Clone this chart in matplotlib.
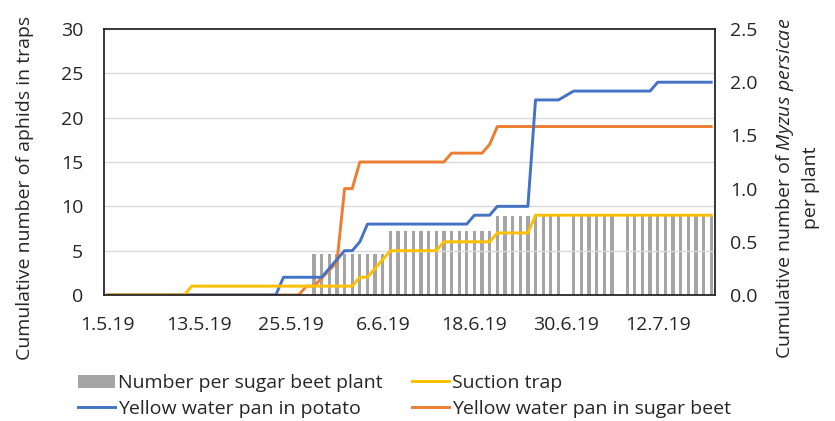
import numpy as np
import pandas as pd
import matplotlib
matplotlib.use("Agg")
import matplotlib.pyplot as plt
from matplotlib.ticker import FixedLocator

plt.rcParams['font.family'] = ['Open Sans', 'DejaVu Sans']
plt.rcParams['mathtext.fontset'] = 'custom'
plt.rcParams['mathtext.it'] = 'Open Sans:italic'
plt.rcParams['mathtext.rm'] = 'Open Sans'

# daily sampling dates, 1.5.2019 - 19.7.2019
dates = pd.date_range('2019-05-01', '2019-07-19', freq='D')
day_labels = [f"{d.day}.{d.month}.19" for d in dates]

# cumulative catches (left axis), one value per day
potato = ([0] * 23 + [2] * 6 + [3, 4, 5, 5, 6] + [8] * 14 + [9] * 3 + [10] * 5
          + [22] * 4 + [22.5] + [23] * 11 + [24] * 8)
sugar_beet = ([0] * 26 + [1, 1, 1.9, 2.8, 3.7, 12, 12] + [15] * 12 + [16] * 5
              + [17] + [19] * 29)
suction = ([0] * 11 + [1] * 22 + [2, 2, 3, 4] + [5] * 7 + [6] * 7 + [7] * 5
           + [9] * 24)

# aphids per sugar beet plant (right axis), NaN = no count that day
per_plant = ([np.nan] * 27 + [0.39] * 10 + [0.6] * 14 + [0.74] * 9 + [np.nan]
             + [0.74] * 6 + [np.nan] + [0.74] * 12)

left_ticks = [0, 5, 10, 15, 20, 25, 30]
right_ticks = [0.0, 0.5, 1.0, 1.5, 2.0, 2.5]

blue = '#4472C4'
orange = '#ED7D31'
yellow = '#FFC000'
grey = '#A5A5A5'
frame = '#262626'
text_col = '#262626'

x = np.arange(len(dates))

fig = plt.figure(figsize=(8.35, 4.21), dpi=100)
ax = fig.add_axes([104 / 835, 1 - 295 / 421, 611 / 835, 266 / 421])
ax2 = ax.twinx()
ax.set_zorder(ax2.get_zorder() + 1)   # lines on top of the bars
ax.patch.set_visible(False)

bars = ax2.bar(x, per_plant, width=0.43, color=grey, label='Number per sugar beet plant')
ax2.set_ylim(0, 2.5)
ax2.set_yticks(right_ticks)
ax2.set_yticklabels([f"{v:.1f}" for v in right_ticks])
# grid of the left scale, drawn behind the bars
ax2.yaxis.set_minor_locator(FixedLocator(np.array(left_ticks[1:-1]) * 2.5 / 30))
ax2.grid(which='minor', axis='y', color='#D9D9D9', linewidth=1.0)
ax2.tick_params(axis='y', which='both', length=0, pad=11, labelsize=14, labelcolor=text_col)

l_sug, = ax.plot(x, sugar_beet, color=orange, lw=2.1, label='Yellow water pan in sugar beet')
l_pot, = ax.plot(x, potato, color=blue, lw=2.1, label='Yellow water pan in potato')
l_suc, = ax.plot(x, suction, color=yellow, lw=2.1, label='Suction trap')

ax.set_ylim(0, 30)
ax.set_yticks(left_ticks)
ax.set_xlim(-0.5, len(dates) - 0.5)
ax.set_xticks(x[::12])
ax.set_xticklabels(day_labels[::12])
ax.tick_params(axis='y', length=0, pad=15, labelsize=14, labelcolor=text_col)
ax.tick_params(axis='x', length=0, pad=15, labelsize=14, labelcolor=text_col)

# axis titles, placed by hand like in the original spreadsheet chart
fig.text(25 / 835, 1 - 188 / 421, 'Cumulative number of aphids in traps',
         rotation=90, ha='center', va='center', fontsize=14, color=text_col)
fig.text(797 / 835, 1 - 188 / 421,
         'Cumulative number of $\\it{Myzus\\ persicae}$\nper plant',
         rotation=90, ha='center', va='center', multialignment='center',
         fontsize=14, color=text_col, linespacing=1.4)

for s in ax.spines.values():
    s.set_color(frame)
    s.set_linewidth(1.3)
for s in ax2.spines.values():
    s.set_visible(False)

fig.legend(handles=[bars, l_pot, l_suc, l_sug], ncol=2, loc='lower left',
           bbox_to_anchor=(70 / 835, -0.012), frameon=False, fontsize=14,
           handlelength=1.9, handletextpad=0.15, columnspacing=1.55,
           labelspacing=0.41, labelcolor=text_col, borderaxespad=0)

fig.savefig('out.png', dpi=100)
